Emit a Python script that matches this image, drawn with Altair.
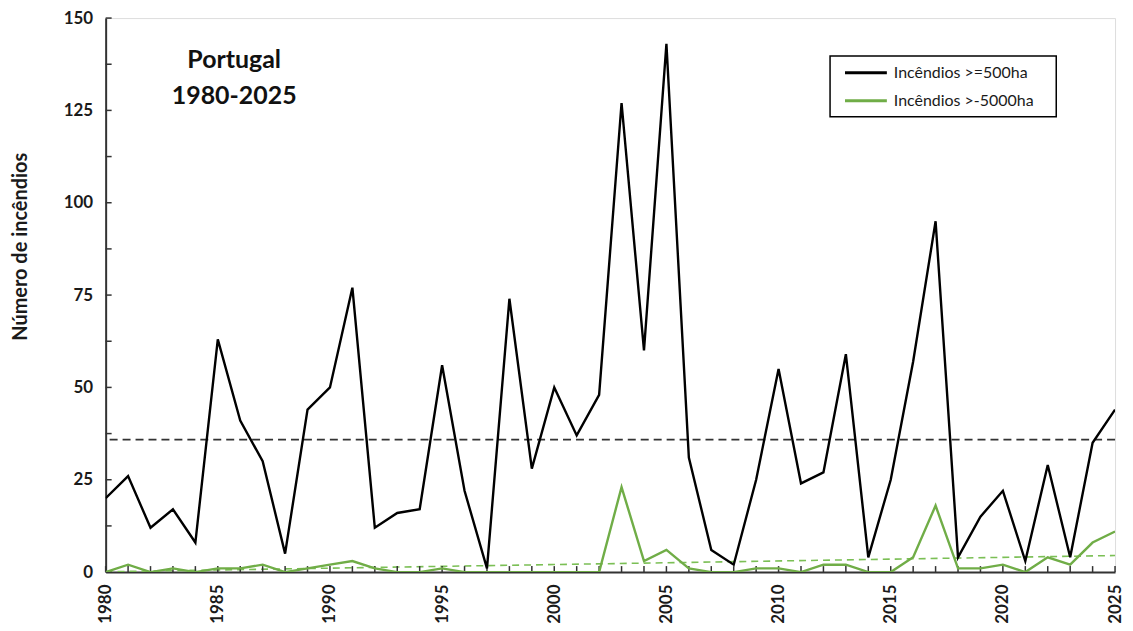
import altair as alt
import pandas as pd

years = list(range(1980, 2026))
fires_500 = [20, 26, 12, 17, 8, 63, 41, 30, 5, 44,
             50, 77, 12, 16, 17, 56, 22, 1, 74, 28,
             50, 37, 48, 127, 60, 143, 31, 6, 2, 25,
             55, 24, 27, 59, 4, 25, 57, 95, 4, 15,
             22, 3, 29, 4, 35, 44]
fires_5000 = [0, 2, 0, 1, 0, 1, 1, 2, 0, 1,
              2, 3, 1, 0, 0, 1, 0, 0, 0, 0,
              0, 0, 0, 23, 3, 6, 1, 0, 0, 1,
              1, 0, 2, 2, 0, 0, 4, 18, 1, 1,
              2, 0, 4, 2, 8, 11]
series_names = ["Incêndios >=500ha", "Incêndios >-5000ha"]
series_colors = ["#000000", "#70AD47"]
y_ticks = [0, 25, 50, 75, 100, 125, 150]
y_minor_ticks = [i * 12.5 for i in range(13)]
x_label_years = [1980, 1985, 1990, 1995, 2000, 2005, 2010, 2015, 2020, 2025]

W, H = 1013, 556
FONT = "Lato"

df_a = pd.DataFrame({"year": years, "n": fires_500, "serie": series_names[0]})
df_b = pd.DataFrame({"year": years, "n": fires_5000, "serie": series_names[1]})
df = pd.concat([df_a, df_b], ignore_index=True)

xscale = alt.Scale(domain=[1980, 2025], nice=False, zero=False)
yscale = alt.Scale(domain=[0, 150], nice=False)

x_enc = alt.X("year:Q", scale=xscale, title=None,
              axis=alt.Axis(values=x_label_years, format="d", labelAngle=270,
                            labelAlign="right", labelBaseline="middle",
                            labelPadding=12, ticks=False, grid=False,
                            labelFont=FONT, labelFontSize=17, labelFontWeight="bold",
                            labelColor="#1a1a1a", domainColor="#333", domainWidth=2))
y_enc = alt.Y("n:Q", scale=yscale, title="Número de incêndios",
              axis=alt.Axis(values=y_ticks, ticks=False, grid=False, labelPadding=13,
                            labelFont=FONT, labelFontSize=17, labelFontWeight="bold",
                            labelColor="#1a1a1a", titleFont=FONT, titleFontSize=20,
                            titleFontWeight="bold", titleColor="#1a1a1a",
                            titleAngle=270, titleAlign="center", titleBaseline="middle",
                            titleX=-85, titleY=229,
                            domainColor="#333", domainWidth=2))

mean_line = alt.Chart(df_a).mark_rule(color="#333", strokeWidth=1.6, strokeDash=[8, 5]).encode(
    y=alt.Y("mean(n):Q", scale=yscale)
)
trend_line = alt.Chart(df_b).transform_regression("year", "n").mark_line(
    color="#7BBF55", strokeWidth=1.6, strokeDash=[7, 5], clip=True
).encode(x=alt.X("year:Q", scale=xscale), y=alt.Y("n:Q", scale=yscale))

lines = alt.Chart(df).mark_line(strokeWidth=2.4, clip=True).encode(
    x=x_enc, y=y_enc,
    color=alt.Color("serie:N", scale=alt.Scale(domain=series_names, range=series_colors),
                    legend=None),
    order=alt.Order("serie:N")
)

yt = pd.DataFrame({"v": y_minor_ticks})
ytick_marks = alt.Chart(yt).mark_rule(color="#333", strokeWidth=1.5).encode(
    y=alt.Y("v:Q", scale=yscale), x=alt.value(0), x2=alt.value(6)
)
xt = pd.DataFrame({"yr": years})
xtick_marks = alt.Chart(xt).mark_rule(color="#333", strokeWidth=1.5).encode(
    x=alt.X("yr:Q", scale=xscale), y=alt.value(H), y2=alt.value(H - 6)
)

one = pd.DataFrame({"t": [0]})
title_txt = alt.Chart(one).mark_text(
    text=["Portugal", "1980-2025"], font=FONT, fontSize=25, fontWeight="bold",
    color="#111", align="center", baseline="alphabetic", lineHeight=36
).encode(x=alt.value(129), y=alt.value(50))

# legend box drawn as a panel
leg_layers = [
    alt.Chart(one).mark_rect(fill="white", stroke="#000", strokeWidth=1.5).encode(
        x=alt.value(727), x2=alt.value(954), y=alt.value(38), y2=alt.value(99))
]
row_y = [55, 83]
for name, col, ry in zip(series_names, series_colors, row_y):
    leg_layers.append(
        alt.Chart(one).mark_rule(strokeWidth=3, color=col).encode(
            x=alt.value(742), x2=alt.value(784), y=alt.value(ry))
    )
    leg_layers.append(
        alt.Chart(one).mark_text(text=name, font=FONT, fontSize=16, color="#1a1a1a",
                                 align="left", baseline="middle").encode(
            x=alt.value(791), y=alt.value(ry))
    )

chart = alt.layer(
    mean_line, trend_line, ytick_marks, xtick_marks, lines, title_txt, *leg_layers
).properties(
    width=W, height=H,
    autosize=alt.AutoSizeParams(type="none"),
    padding={"left": 98, "top": 9, "right": 10, "bottom": 50},
).configure_view(stroke="#333", strokeWidth=1.5).configure(background="white")

chart.save("out.html", embed_options={"renderer": "svg", "actions": False})
